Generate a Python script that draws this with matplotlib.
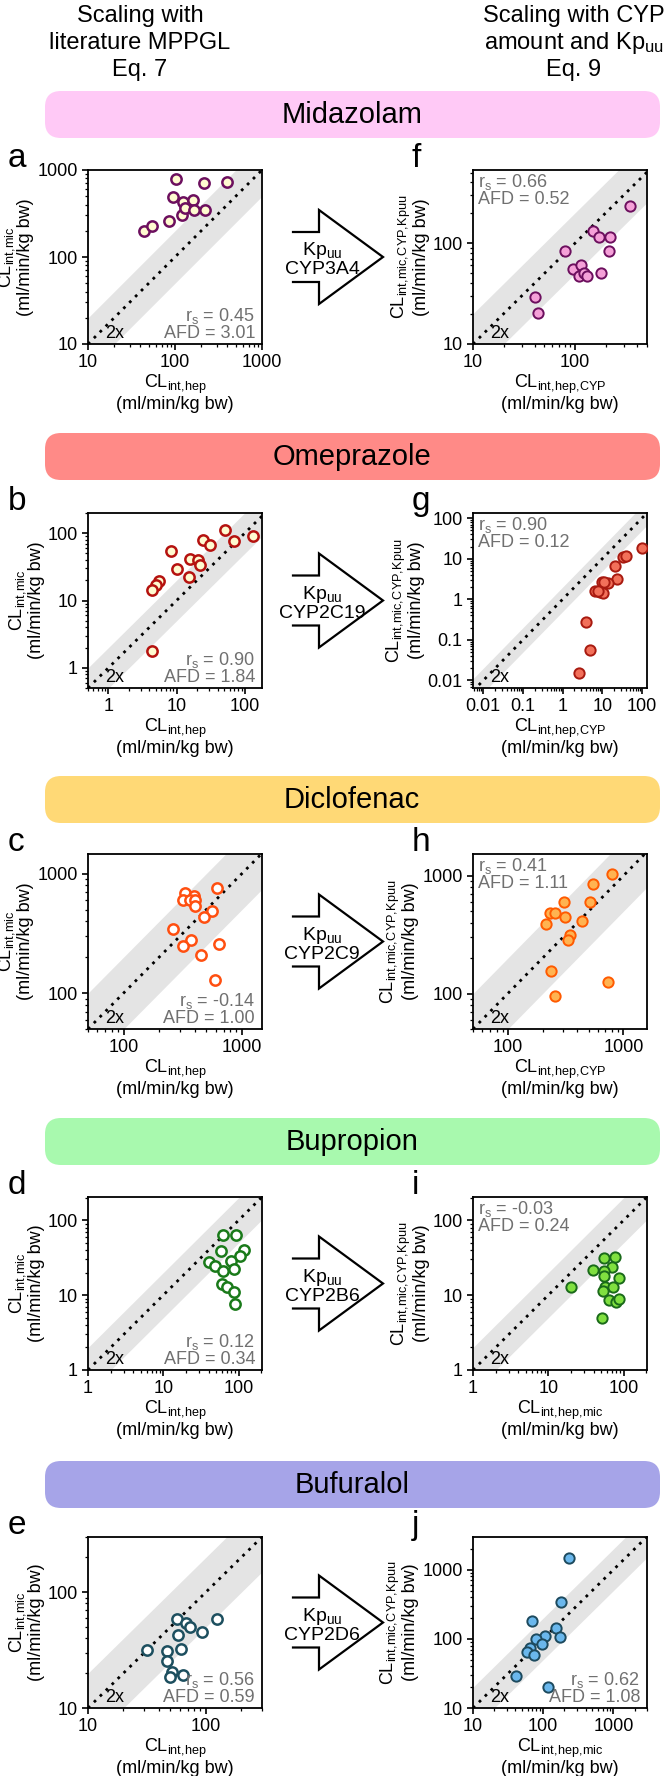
import matplotlib
matplotlib.use('Agg')
import matplotlib.pyplot as plt
import numpy as np
from matplotlib.patches import FancyBboxPatch
from matplotlib.ticker import LogLocator, FuncFormatter, NullFormatter

plt.rcParams['font.family'] = ['Liberation Sans', 'DejaVu Sans']
plt.rcParams['mathtext.default'] = 'regular'

# ---- data ----
drugs = ['Midazolam', 'Omeprazole', 'Diclofenac', 'Bupropion', 'Bufuralol']
enzymes = ['CYP3A4', 'CYP2C19', 'CYP2C9', 'CYP2B6', 'CYP2D6']

# left column: CLint,hep vs CLint,mic (Eq. 7)
mdz_hep = [44, 55, 85, 95, 103, 122, 121, 132, 162, 166, 219, 215, 398]
mdz_mic = [200, 228, 260, 495, 790, 430, 305, 365, 450, 345, 345, 712, 728]
ome_hep = [51, 24.5, 30.7, 71, 131, 8.3, 16, 20.5, 21.9, 10, 15.3, 5.5, 5.0, 4.3, 4.4]
ome_mic = [113, 78.7, 66, 76, 92, 54, 42, 40.5, 34, 29.4, 22.3, 19.7, 17.1, 14.1, 1.77]
dic_hep = [612, 333, 395, 318, 363, 400, 400, 555, 481, 262, 370, 318, 641, 450, 593]
dic_mic = [759, 689, 654, 598, 606, 606, 532, 483, 433, 344, 276, 250, 259, 209, 128]
bup_hep = [62, 93, 58, 120, 105, 41, 49, 79, 62, 88, 60, 70, 88, 90]
bup_mic = [63, 64, 39, 40, 33.5, 27.8, 24.4, 28.7, 21.1, 22.7, 14.3, 12.9, 11.1, 7.7]
buf_hep = [57, 67.6, 73, 58, 92, 124, 31.9, 46.7, 62, 46.7, 51.5, 64, 49.2]
buf_mic = [58.8, 54.3, 49.8, 43, 45, 58.8, 31.9, 30.9, 32.4, 25.3, 20.5, 19.4, 18.5]

# right column: scaled with CYP amount and Kpuu (Eq. 9)
mdz_hep_cyp = [347, 149, 170, 221, 80, 213, 95, 115, 108, 121, 130, 180, 40.4, 43.6]
mdz_mic_cyp = [234, 131, 116, 116, 84, 83, 55, 61, 47.5, 51, 47.5, 50, 29, 20.3]
ome_hep_cyp = [102, 32.9, 40.8, 20.6, 23.6, 13.7, 9.8, 6.6, 8.55, 10.4, 3.85, 4.96, 2.6, 10.9, 7.9]
ome_mic_cyp = [18.9, 10.9, 12, 6.8, 3.1, 2.56, 2.66, 1.63, 1.54, 1.42, 0.28, 0.056, 0.0154, 2.75, 1.6]
dic_hep_cyp = [796, 547, 305, 511, 233, 256, 313, 213, 438, 342, 335, 236, 729, 258]
dic_mic_cyp = [1040, 855, 597, 604, 481, 487, 450, 387, 409, 314, 285, 155, 126, 95.5]
bup_hep_mic = [55, 77, 70, 39, 55, 55, 88, 57, 72, 19.9, 54, 65, 80, 88, 51]
bup_mic_cyp = [31.8, 32.4, 23.9, 22, 20.9, 18.1, 17.2, 12.9, 12.9, 12.9, 11.4, 8.6, 8.0, 9.0, 5.0]
buf_hep_mic = [230, 179, 70, 152, 173, 106, 80, 97, 64.6, 58, 73.6, 41.6, 118]
buf_mic_cyp = [1490, 340, 180, 144, 107, 109, 98, 83, 74, 64, 59, 28.8, 20]

left_x = [mdz_hep, ome_hep, dic_hep, bup_hep, buf_hep]
left_y = [mdz_mic, ome_mic, dic_mic, bup_mic, buf_mic]
right_x = [mdz_hep_cyp, ome_hep_cyp, dic_hep_cyp, bup_hep_mic, buf_hep_mic]
right_y = [mdz_mic_cyp, ome_mic_cyp, dic_mic_cyp, bup_mic_cyp, buf_mic_cyp]

left_rs = ['0.45', '0.90', '-0.14', '0.12', '0.56']
left_afd = ['3.01', '1.84', '1.00', '0.34', '0.59']
right_rs = ['0.66', '0.90', '0.41', '-0.03', '0.62']
right_afd = ['0.52', '0.12', '1.11', '0.24', '1.08']

left_letters = ['a', 'b', 'c', 'd', 'e']
right_letters = ['f', 'g', 'h', 'i', 'j']
right_xlabels = ['CL$_{int,\\!hep,\\!CYP}$', 'CL$_{int,\\!hep,\\!CYP}$', 'CL$_{int,\\!hep,\\!CYP}$',
                 'CL$_{int,\\!hep,\\!mic}$', 'CL$_{int,\\!hep,\\!mic}$']

# ---- styling ----
pill_colors = ['#ffc9f6', '#ff8a87', '#ffd976', '#a8f9ae', '#a6a4e8']
left_edge = ['#6c0f5e', '#b5120f', '#ff4f10', '#1a7a1a', '#1d4f5f']
left_face = ['#fffbd0', '#fffbd0', 'white', 'white', 'white']
right_face = ['#f5a0d8', '#f2705a', '#ffb351', '#80e040', '#6ab7ec']
right_edge = ['#6c0f5e', '#a81a10', '#ff5a00', '#1a6a1a', '#1d4a5e']

left_lims = [((10, 1000), (10, 1000)), ((0.5, 180), (0.5, 200)), ((50, 1480), (50, 1460)),
             ((1, 205), (1, 205)), ((10, 300), (10, 300))]
right_lims = [((10, 505), (10, 530)), ((0.0055, 135), (0.0065, 135)), ((50, 1600), (50, 1530)),
              ((1, 205), (1, 205)), ((10, 3000), (10, 2970))]

W, H = 666, 1776
fig = plt.figure(figsize=(W / 100, H / 100), dpi=100)

def px_axes(l, t, w, h):
    return fig.add_axes([l / W, 1 - (t + h) / H, w / W, h / H])

# overlay for titles, pills, arrows (pixel coords)
ov = fig.add_axes([0, 0, 1, 1])
ov.set_xlim(0, W)
ov.set_ylim(H, 0)
ov.axis('off')

for xc, lines in [(140, ['Scaling with', 'literature MPPGL', 'Eq. 7']),
                  (574, ['Scaling with CYP', 'amount and Kp$_{uu}$', 'Eq. 9'])]:
    for k, s in enumerate(lines):
        ov.text(xc, 22 + 27 * k, s, ha='center', va='baseline', fontsize=17)

pill_tops = [91, 433, 776, 1118, 1461]
left_tops = [170, 513, 854, 1197, 1537]
heights = [174, 175, 175, 173, 171]

fmt = FuncFormatter(lambda v, p: f'{v:g}')

def style_axes(ax, xl, yl, xlabel, ylabel):
    ax.set_xscale('log')
    ax.set_yscale('log')
    ax.set_xlim(*xl)
    ax.set_ylim(*yl)
    xs = np.array(xl, dtype=float)
    ax.fill_between(xs, xs / 2, xs * 2, color='#e4e4e4', lw=0, zorder=0)
    ax.plot(xs, xs, color='black', lw=2, linestyle=(0, (1, 2)), zorder=1)
    for axis in (ax.xaxis, ax.yaxis):
        axis.set_major_locator(LogLocator(base=10, numticks=20))
        axis.set_minor_locator(LogLocator(base=10, subs=np.arange(2, 10), numticks=20))
        axis.set_major_formatter(fmt)
        axis.set_minor_formatter(NullFormatter())
    ax.tick_params(which='major', direction='out', length=4.5, width=1.2, labelsize=13, pad=3)
    ax.tick_params(which='minor', direction='out', length=2.5, width=0.9)
    for sp in ax.spines.values():
        sp.set_linewidth(1.3)
    ax.set_xlabel(xlabel + '\n(ml/min/kg bw)', fontsize=13, labelpad=1, linespacing=1.0)
    ax.set_ylabel(ylabel + '\n(ml/min/kg bw)', fontsize=13, labelpad=2, linespacing=1.0)
    ax.text(0.1, 0.012, '2x', transform=ax.transAxes, fontsize=13, va='bottom', ha='left')

for r in range(5):
    top = left_tops[r]
    h = heights[r]
    # pill
    pt = pill_tops[r]
    ov.add_patch(FancyBboxPatch((45, pt), 615, 47, boxstyle='round,pad=0,rounding_size=16',
                                facecolor=pill_colors[r], edgecolor='none'))
    ov.text(352, pt + 24, drugs[r], ha='center', va='center', fontsize=21)

    # arrow (open tail)
    cy = top + h / 2
    ax_pts = np.array([(293, cy - 25), (319, cy - 25), (319, cy - 47), (383, cy),
                       (319, cy + 47), (319, cy + 25), (293, cy + 25)])
    ov.plot(ax_pts[:, 0], ax_pts[:, 1], color='black', lw=1.6, solid_joinstyle='miter')
    ov.text(322, cy + 2, 'Kp$_{uu}$\n' + enzymes[r], ha='center', va='center', fontsize=14,
            linespacing=1.0)

    # left panel
    axl = px_axes(88, top, 174, h)
    style_axes(axl, left_lims[r][0], left_lims[r][1], 'CL$_{int,\\!hep}$', 'CL$_{int,\\!mic}$')
    axl.scatter(left_x[r], left_y[r], s=55, facecolor=left_face[r], edgecolor=left_edge[r],
                linewidths=1.8, zorder=3)
    axl.text(0.96, 0.012, 'r$_s$ = ' + left_rs[r] + '\nAFD = ' + left_afd[r],
             transform=axl.transAxes, ha='right', va='bottom', fontsize=13, color='#707070',
             linespacing=0.95)

    # right panel
    axr = px_axes(473, top, 174, h)
    style_axes(axr, right_lims[r][0], right_lims[r][1], right_xlabels[r],
               'CL$_{int,\\!mic,\\!CYP,\\!Kpuu}$')
    axr.scatter(right_x[r], right_y[r], s=55, facecolor=right_face[r], edgecolor=right_edge[r],
                linewidths=1.4, zorder=3)
    if r < 4:
        axr.text(0.03, 0.99, 'r$_s$ = ' + right_rs[r] + '\nAFD = ' + right_afd[r],
                 transform=axr.transAxes, ha='left', va='top', fontsize=13, color='#707070',
                 linespacing=0.95)
    else:
        axr.text(0.96, 0.012, 'r$_s$ = ' + right_rs[r] + '\nAFD = ' + right_afd[r],
                 transform=axr.transAxes, ha='right', va='bottom', fontsize=13, color='#707070',
                 linespacing=0.95)

    ov.text(8, top - 3, left_letters[r], ha='left', va='baseline', fontsize=24)
    ov.text(412, top - 3, right_letters[r], ha='left', va='baseline', fontsize=24)

fig.savefig('out.png', dpi=100)
